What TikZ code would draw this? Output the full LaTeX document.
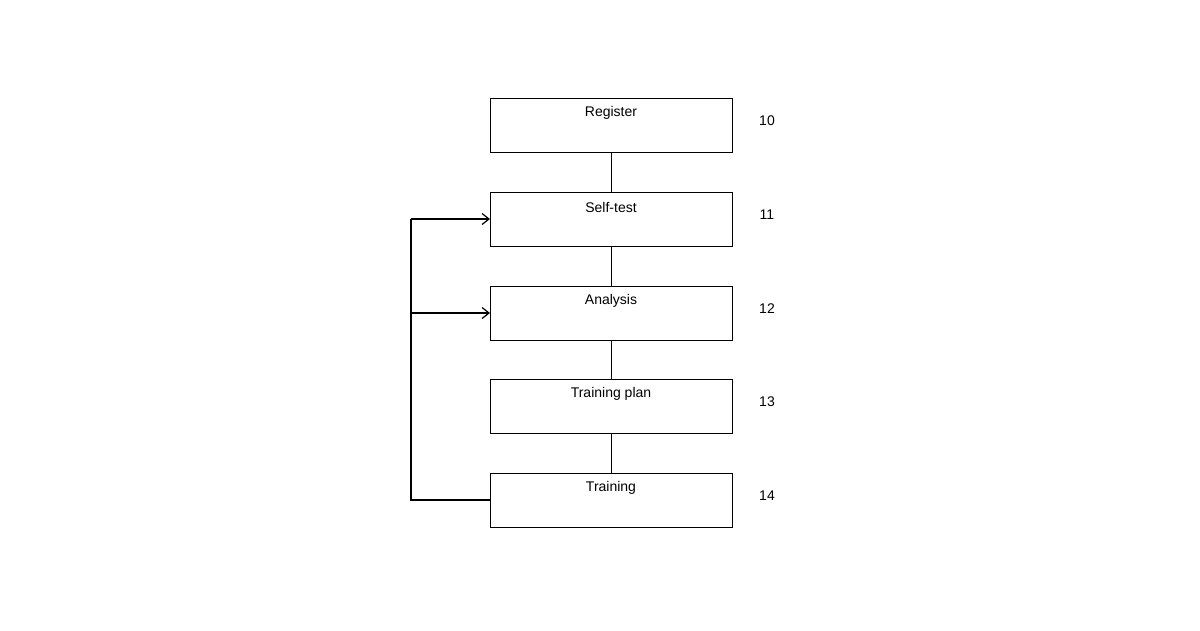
\documentclass[tikz,border=0pt]{standalone}
\usepackage{fontspec}
\setmainfont{Liberation Sans}
\usetikzlibrary{arrows.meta}
\begin{document}
\begin{tikzpicture}[x=1pt,y=-1pt,
  box/.style={draw,line width=1.2pt,minimum width=242pt,minimum height=54pt,inner sep=0pt},
  lbl/.style={font=\fontsize{14}{16}\selectfont},
  ln/.style={line width=1.3pt},
  arr/.style={ln,-{Straight Barb[length=7pt,width=11pt,line width=1.2pt]}}]
\useasboundingbox (0,0) rectangle (1200,630);
\foreach \n/\y/\t/\num in {a/98/Register/10,b/192/Self-test/11,c/286/Analysis/12,d/379/Training plan/13,e/473/Training/14}{
  \node[box,anchor=north west] (\n) at (490,\y) {};
  \node[lbl] (\n t) at (611,\y+15) {\t};
  \node[lbl] (\n n) at (767,\y+23) {\num};
}
\draw[ln] (a.south) -- (b.north);
\draw[ln] (b.south) -- (c.north);
\draw[ln] (c.south) -- (d.north);
\draw[ln] (d.south) -- (e.north);
\coordinate (p) at (411,500);
\coordinate (q) at (411,219);
\coordinate (r) at (411,313);
\draw[ln] ([yshift=-27pt]e.north west) -- (p) -- (q);
\draw[arr] (q) -- ([yshift=-27pt]b.north west);
\draw[arr] (r) -- ([yshift=-27pt]c.north west);
\end{tikzpicture}
\end{document}
